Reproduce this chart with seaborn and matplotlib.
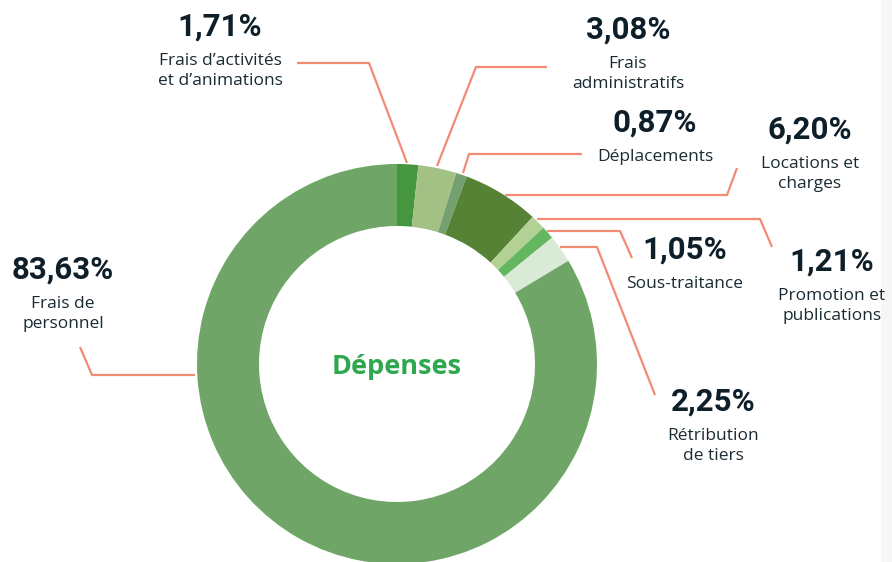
import matplotlib.pyplot as plt
import seaborn as sns

# Data (clockwise from the top)
categories = ["Frais d\u2019activités\net d\u2019animations", "Frais\nadministratifs", "Déplacements",
              "Locations et\ncharges", "Promotion et\npublications", "Sous-traitance",
              "Rétribution\nde tiers", "Frais de\npersonnel"]
values = [1.71, 3.08, 0.87, 6.20, 1.21, 1.05, 2.25, 83.63]
colors = ["#45963f", "#a3c184", "#74a06f", "#558235", "#b3d195", "#64b660", "#d9ead6", "#6fa668"]

# label placement (pixels, top-left origin) and leader lines
label_pos = [(220, 27), (628, 30), (655, 123), (810, 130), (832, 262), (685, 250), (713, 402), (63, 270)]
leaders = [
    [(297, 63), (369, 63), (407, 163)],
    [(547, 67), (476, 67), (437, 166)],
    [(582, 154), (469, 154), (463, 173)],
    [(737, 168), (727, 195), (505, 195)],
    [(537, 219), (760, 219), (772, 247)],
    [(547, 231), (620, 231), (632, 258)],
    [(560, 247), (597, 247), (655, 395)],
    [(80, 347), (92, 375), (195, 375)],
]

sns.set_theme(style="white")
W, H = 892, 562
fig = plt.figure(figsize=(W / 100, H / 100), dpi=100)
ax = fig.add_axes([0, 0, 1, 1])

cx, cy, r = 397, H - 364, 200
ax.pie(values, colors=colors, startangle=90, counterclock=False, center=(cx, cy), radius=r,
       wedgeprops=dict(width=r * 0.31, linewidth=0), frame=True)
ax.set_xlim(0, W)
ax.set_ylim(0, H)
ax.set_aspect("equal")
ax.axis("off")

# faint grey strip on the right edge
ax.axvspan(881, W, color="#f6f6f6", lw=0, zorder=0)

line_col = "#f28b74"
for pts in leaders:
    xs = [p[0] for p in pts]
    ys = [H - p[1] for p in pts]
    ax.plot(xs, ys, color=line_col, lw=1.6, solid_capstyle="butt", zorder=1)

num_font = ["Roboto", "DejaVu Sans"]
txt_font = ["Open Sans", "DejaVu Sans"]
for cat, val, (x, y) in zip(categories, values, label_pos):
    ax.text(x, H - y, f"{val:.2f}%".replace(".", ","), ha="center", va="center",
            fontsize=22.5, fontweight="bold", color="#0f1f2a", family=num_font)
    ax.text(x, H - y - 26, cat, ha="center", va="top", fontsize=12.5,
            color="#1a2a33", family=txt_font, linespacing=1.3)

ax.text(cx, H - 367, "Dépenses", ha="center", va="center", fontsize=19.5,
        fontweight="bold", color="#2ea84e", family=txt_font)

fig.savefig("out.png", dpi=100)
